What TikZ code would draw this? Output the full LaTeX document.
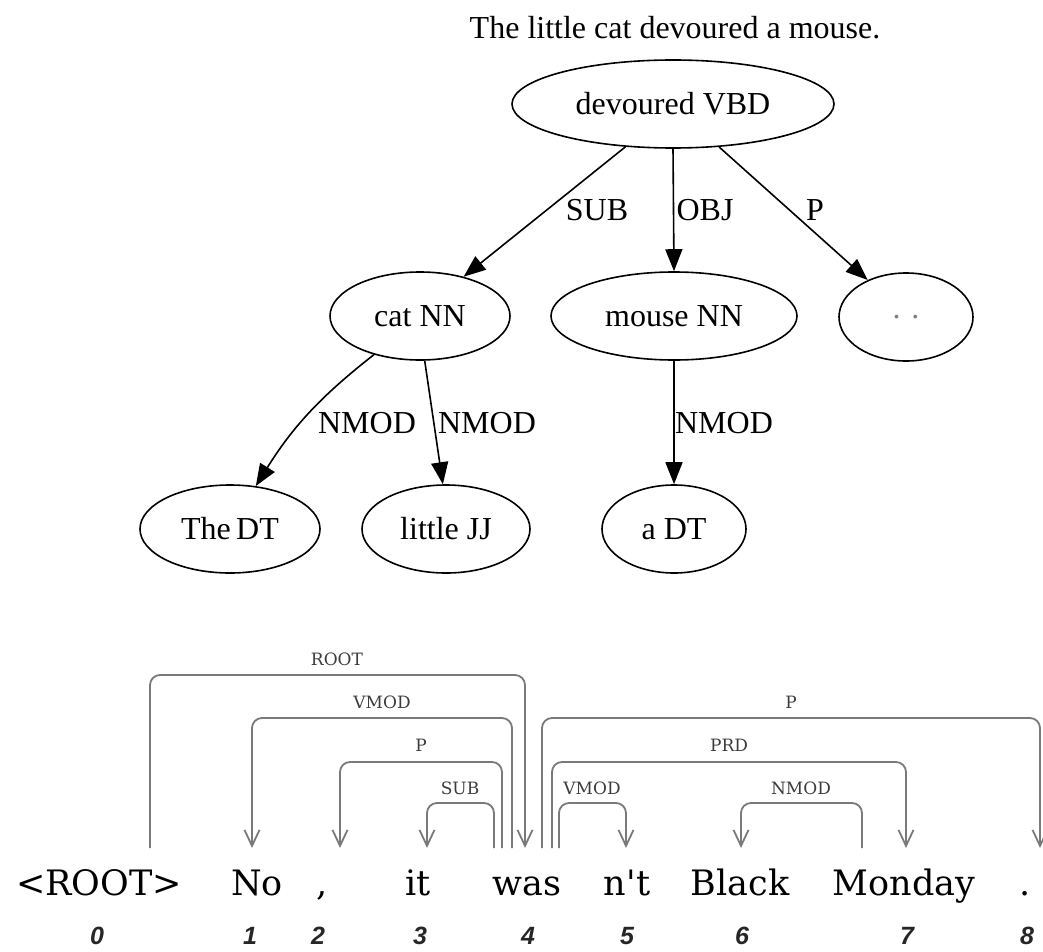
\documentclass[tikz,border=0pt]{standalone}
\usepackage{fontspec}
\setmainfont{Liberation Serif}
\newfontfamily\wordfont{DejaVu Serif}
\newfontfamily\numfont{Liberation Sans}
\usetikzlibrary{arrows.meta,shapes.geometric}
\definecolor{arcgray}{HTML}{7A7A7A}
\definecolor{labgray}{HTML}{3C3C3C}
\begin{document}
\begin{tikzpicture}[x=1pt,y=-1pt,
 tnode/.style={draw,line width=1.6pt,ellipse,inner sep=0pt,minimum height=88pt,font=\fontsize{32}{38}\selectfont},
 tedge/.style={line width=1.6pt,-{Triangle[length=22pt,width=17pt]}},
 elab/.style={font=\fontsize{32}{38}\selectfont,inner sep=0pt},
 word/.style={anchor=base,inner sep=0pt,font=\wordfont\fontsize{35}{40}\selectfont},
 idx/.style={inner sep=0pt,font=\numfont\bfseries\itshape\fontsize{25}{30}\selectfont,text=black!85},
 darc/.style={draw=arcgray,line width=1.8pt,rounded corners=10pt,-{Straight Barb[length=16pt,width=15pt]}},
 dlab/.style={inner sep=0pt,text=labgray,font=\wordfont\fontsize{17}{20}\selectfont}]
\useasboundingbox (0,0) rectangle (1043,952);
% ---------- tree ----------
\node[elab] (title) at (675,28) {The little cat devoured a mouse.};
\node[tnode,minimum width=322pt] (dev) at (673,104) {devoured VBD};
\node[tnode,minimum width=180pt] (cat) at (420,316) {cat NN};
\node[tnode,minimum width=246pt] (mouse) at (674,316) {mouse NN};
\node[tnode,minimum width=134pt] (dots) at (906,317) {\textcolor{gray}{. .}};
\node[tnode,minimum width=180pt] (the) at (230,529) {The\,DT};
\node[tnode,minimum width=168pt] (little) at (446,529) {little JJ};
\node[tnode,minimum width=144pt] (adt) at (674,529) {a DT};
\draw[tedge] (dev.222) -- (cat.42);
\draw[tedge] (dev.south) -- (mouse.north);
\draw[tedge] (dev.317) -- (dots.136);
\draw[tedge] (cat.220) to[bend right=10] (the.59);
\draw[tedge] (cat.276) -- (little.94);
\draw[tedge] (mouse.south) -- (adt.north);
\node[elab] (lsub) at (597,210) {SUB};
\node[elab] (lobj) at (705,210) {OBJ};
\node[elab] (lp) at (815,210) {P};
\node[elab] (ln1) at (367,423) {NMOD};
\node[elab] (ln2) at (487,423) {NMOD};
\node[elab] (ln3) at (724,423) {NMOD};
% ---------- dependency arcs ----------
\node[word] (w0) at (99,895) {<ROOT>};
\node[word] (w1) at (257,895) {No};
\node[word] (w2) at (322,895) {,};
\node[word] (w3) at (418,895) {it};
\node[word] (w4) at (527,895) {was};
\node[word] (w5) at (627,895) {n't};
\node[word] (w6) at (740,895) {Black};
\node[word] (w7) at (904,895) {Monday};
\node[word] (w8) at (1025,895) {.};
\foreach \i/\x in {0/97,1/250,2/318,3/420,4/528,5/627,6/742,7/907,8/1027}
  \node[idx] (n\i) at (\x,936) {\i};
\coordinate (a0) at (150,848);
\coordinate (a1) at (252,848);
\coordinate (a2) at (340,848);
\coordinate (a3) at (427,848);
\coordinate (a4r) at (525,848);
\coordinate (a4v) at (512,848);
\coordinate (a4p) at (502,848);
\coordinate (a4s) at (494,848);
\coordinate (a4q) at (542,848);
\coordinate (a4d) at (552,848);
\coordinate (a4m) at (559,848);
\coordinate (a5) at (626,848);
\coordinate (a6) at (741,848);
\coordinate (a7) at (906,848);
\coordinate (a7n) at (862,848);
\coordinate (a8) at (1040,848);
\draw[darc] (a0) -- ++(0,-173) -| (a4r);
\draw[darc] (a4v) -- ++(0,-130) -| (a1);
\draw[darc] (a4p) -- ++(0,-86) -| (a2);
\draw[darc] (a4s) -- ++(0,-45) -| (a3);
\draw[darc] (a4q) -- ++(0,-130) -| (a8);
\draw[darc] (a4d) -- ++(0,-86) -| (a7);
\draw[darc] (a4m) -- ++(0,-45) -| (a5);
\draw[darc] (a7n) -- ++(0,-45) -| (a6);
\node[dlab] (lroot) at (337,659) {ROOT};
\node[dlab] (lvm1) at (382,702) {VMOD};
\node[dlab] (lp1) at (421,745) {P};
\node[dlab] (lsb) at (460,788) {SUB};
\node[dlab] (lp8) at (791,702) {P};
\node[dlab] (lprd) at (729,745) {PRD};
\node[dlab] (lvm5) at (592,788) {VMOD};
\node[dlab] (lnm) at (801,788) {NMOD};
\end{tikzpicture}
\end{document}
